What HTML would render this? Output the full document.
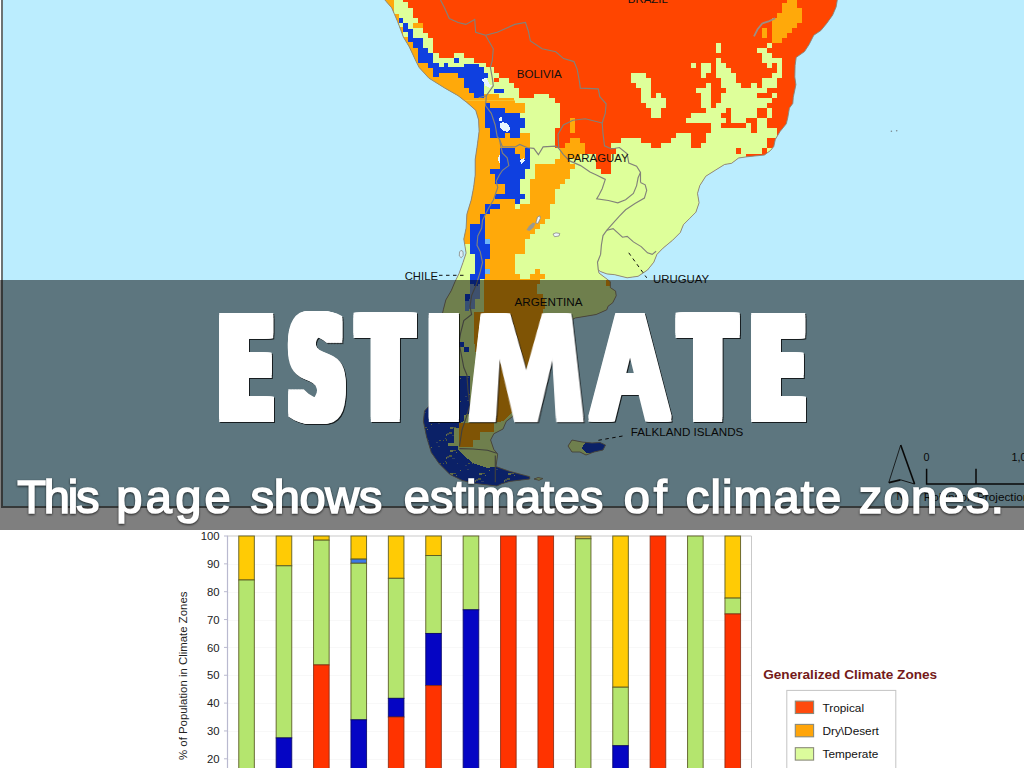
<!DOCTYPE html>
<html lang="en"><head><meta charset="utf-8"><title>Estimate</title>
<style>
html,body{margin:0;padding:0;background:#fff}
body{width:1024px;height:768px;position:relative;overflow:hidden;font-family:"Liberation Sans",sans-serif}
#map{position:absolute;left:0;top:0}
#map text{font-family:"Liberation Sans",sans-serif;fill:#111}
#chart{position:absolute;left:0;top:530px}
#chart text{font-family:"Liberation Sans",sans-serif}
.tk{font-size:11.3px;fill:#222}
.yl{font-size:11.4px;fill:#222}
.lt{font-size:13.3px;font-weight:bold;fill:#741a1a}
.ll{font-size:11.8px;fill:#111}
#band{position:absolute;left:0;top:280px;width:1024px;height:249.6px;background:rgba(0,0,0,.5)}
#hl,#sub{position:absolute;left:0;top:0;width:1024px;margin:0;padding:0;font-size:0;line-height:0;white-space:nowrap;font-weight:normal}
#hl span,#sub span{display:inline-block;position:relative;width:0;vertical-align:top;line-height:1;color:#fff;white-space:pre}
#hl{filter:drop-shadow(1px 1.6px .7px rgba(0,0,0,.75))}
#hl span{font:bold 142.47px "DejaVu Sans","Liberation Sans",sans-serif;line-height:1;transform-origin:0 0}
#hl span.m{font-family:"Liberation Sans",sans-serif}
#sub{filter:drop-shadow(.6px 1.8px .8px rgba(0,0,0,.7))}
#sub span{font:47px "Liberation Sans",sans-serif;line-height:1;-webkit-text-stroke:1.7px #fff}

</style></head><body>
<svg id="map" width="1024" height="508" viewBox="0 0 1024 508" shape-rendering="crispEdges">
<defs><clipPath id="land"><path d="M384.9 -3 L384.9 0 L391.7 7.8 L394.6 14.6 L397.6 21.5 L400.5 29.3 L403.4 37.1 L409.3 46.9 L416.1 61.5 L419.1 67.4 L428.8 78.1 L444.5 87.9 L458.1 95.7 L466.9 102.5 L475.7 110.3 L478.6 120 L479.1 131.3 L477.5 143.8 L475.2 159.4 L475.2 175 L473.6 187.5 L471.2 200 L466.9 214.1 L466.1 228.1 L463.8 239.1 L466.1 253.1 L463 262.5 L459.1 273.4 L455.2 281.3 L451.3 290.6 L445.8 300 L443.4 309.4 L441 320 L439 332 L436 346 L433 360 L431 375 L430 392 L429 406 L424.5 411 L423.4 421.3 L426.6 436.9 L431.3 452.5 L439 463.4 L450 474.4 L462.5 480.6 L478 483.8 L496.9 486 L501.6 483.8 L509.4 481.4 L529.7 479 L529.7 476.7 L509.4 471.3 L496 466.6 L497.7 454 L493.8 449.4 L490.6 440 L493.8 433.8 L503 429 L506.3 421.3 L512.5 416.6 L520 402 L533 388 L546 377 L544 366 L553 352 L557 337 L564 324 L575.2 318 L596.2 314.5 L606.8 309.8 L608 306.3 L612.7 302.8 L616.2 295.8 L615.6 291.1 L610.3 287.6 L610.3 281.7 L608.4 280.2 L605.3 277.8 L599 273.1 L598.3 270 L600.6 271.6 L606.9 273.9 L614.7 274.7 L627.2 277.8 L638.1 276.3 L647.5 270 L653.8 262.2 L656.9 254.4 L663.1 248.1 L672.5 240.3 L680.3 232.5 L683.4 224.7 L689.7 218.4 L695.9 212.2 L699.1 202.8 L697.5 193.4 L699.8 185.6 L705.8 176.2 L715.2 170.3 L724.5 164.5 L731.6 163.3 L738.6 158 L746.8 156.8 L764.4 155 L770.5 150.5 L773.8 146.4 L775.3 139.4 L780 131.6 L786.3 123.8 L787.8 117.5 L789.4 108.1 L792.8 103.4 L793.3 97.2 L795.9 84.7 L794.8 76.9 L795.1 65.6 L796.2 57.4 L804.5 51.6 L809.1 44.5 L813.8 35.2 L820.9 30.5 L826.7 23.4 L832.6 15.2 L836.1 7 L837.3 0 L837.5 -3Z M568 446 L572 440 L582 442 L592 443 L600 442.5 L605.5 445 L603 450 L594 452 L586 455 L580 452 L572 452Z M534 479 L538 477.6 L543 478.5 L539 480.3Z"/></clipPath><clipPath id="t1"><rect x="370" y="-5" width="220" height="105.5"/></clipPath></defs>
<rect x="0" y="0" width="1024" height="508" fill="#bbedfe"/>
<g clip-path="url(#land)">
<rect x="370" y="-5" width="480" height="520" fill="#ff4500"/>
<path fill="#deff9a" d="M630.7 73H645.8V78H630.7ZM630.7 78H650.8V83.1H630.7ZM635.7 83.1H650.8V88.1H635.7ZM640.8 88.1H650.8V93.1H640.8ZM640.8 93.1H650.8V98.1H640.8ZM655.9 93.1H660.9V98.1H655.9ZM640.8 98.1H665.9V103.2H640.8ZM645.8 103.2H665.9V108.2H645.8ZM650.8 108.2H660.9V113.2H650.8ZM650.8 113.2H660.9V118.3H650.8ZM620.6 138.4H640.8V143.4H620.6ZM670.9 138.4H681V143.4H670.9ZM610.6 143.4H650.8V148.4H610.6ZM660.9 143.4H681V148.4H660.9ZM615.6 148.4H681V153.5H615.6ZM580.4 153.5H595.5V158.5H580.4ZM610.6 153.5H681V158.5H610.6ZM570.3 158.5H595.5V163.5H570.3ZM610.6 158.5H681V163.5H610.6ZM570.3 163.5H595.5V168.6H570.3ZM610.6 163.5H681V168.6H610.6ZM570.3 168.6H600.5V173.6H570.3ZM610.6 168.6H681V173.6H610.6ZM565.3 173.6H681V178.6H565.3ZM716.2 42.8H721.2V47.8H716.2ZM766.5 42.8H771.5V47.8H766.5ZM716.2 47.8H721.2V52.9H716.2ZM756.5 47.8H766.5V52.9H756.5ZM761.5 52.9H771.5V57.9H761.5ZM716.2 57.9H721.2V62.9H716.2ZM761.5 57.9H781.6V62.9H761.5ZM691.1 62.9H696.1V68H691.1ZM701.1 62.9H711.2V68H701.1ZM716.2 62.9H726.3V68H716.2ZM766.5 62.9H771.5V68H766.5ZM776.6 62.9H781.6V68H776.6ZM701.1 68H711.2V73H701.1ZM716.2 68H731.3V73H716.2ZM776.6 68H781.6V73H776.6ZM701.1 73H706.1V78H701.1ZM716.2 73H736.3V78H716.2ZM771.5 73H781.6V78H771.5ZM721.2 78H736.3V83.1H721.2ZM761.5 78H776.6V83.1H761.5ZM706.1 83.1H711.2V88.1H706.1ZM721.2 83.1H741.4V88.1H721.2ZM751.4 83.1H756.5V88.1H751.4ZM761.5 83.1H776.6V88.1H761.5ZM696.1 88.1H711.2V93.1H696.1ZM726.3 88.1H766.5V93.1H726.3ZM701.1 93.1H711.2V98.1H701.1ZM721.2 93.1H756.5V98.1H721.2ZM771.5 93.1H776.6V98.1H771.5ZM701.1 98.1H711.2V103.2H701.1ZM721.2 98.1H771.5V103.2H721.2ZM701.1 103.2H711.2V108.2H701.1ZM716.2 103.2H766.5V108.2H716.2ZM706.1 108.2H726.3V113.2H706.1ZM731.3 108.2H756.5V113.2H731.3ZM766.5 108.2H771.5V113.2H766.5ZM691.1 113.2H721.2V118.3H691.1ZM731.3 113.2H756.5V118.3H731.3ZM766.5 113.2H771.5V118.3H766.5ZM686 118.3H726.3V123.3H686ZM731.3 118.3H746.4V123.3H731.3ZM756.5 118.3H766.5V123.3H756.5ZM711.2 123.3H721.2V128.3H711.2ZM746.4 123.3H751.4V128.3H746.4ZM756.5 123.3H766.5V128.3H756.5ZM711.2 128.3H751.4V133.3H711.2ZM756.5 128.3H776.6V133.3H756.5ZM676 133.3H691.1V138.4H676ZM706.1 133.3H776.6V138.4H706.1ZM676 138.4H691.1V143.4H676ZM706.1 138.4H766.5V143.4H706.1ZM676 143.4H691.1V148.4H676ZM701.1 143.4H766.5V148.4H701.1ZM676 148.4H796.7V153.5H676ZM515 98.1H555.2V103.2H515ZM525.1 103.2H560.3V108.2H525.1ZM525.1 108.2H560.3V113.2H525.1ZM520 113.2H560.3V118.3H520ZM525.1 118.3H560.3V123.3H525.1ZM525.1 123.3H560.3V128.3H525.1ZM520 128.3H555.2V133.3H520ZM530.1 133.3H555.2V138.4H530.1ZM530.1 138.4H555.2V143.4H530.1ZM530.1 143.4H555.2V148.4H530.1ZM530.1 148.4H560.3V153.5H530.1ZM530.1 153.5H560.3V158.5H530.1ZM530.1 158.5H555.2V163.5H530.1ZM570.3 158.5H595.5V163.5H570.3ZM530.1 163.5H535.1V168.6H530.1ZM575.4 163.5H595.5V168.6H575.4ZM525.1 168.6H535.1V173.6H525.1ZM570.3 168.6H600.5V173.6H570.3ZM525.1 173.6H535.1V178.6H525.1ZM570.3 173.6H681V178.6H570.3ZM520 178.6H530.1V183.7H520ZM565.3 178.6H681V183.7H565.3ZM520 183.7H530.1V188.7H520ZM560.3 183.7H681V188.7H560.3ZM520 188.7H530.1V193.7H520ZM555.2 188.7H681V193.7H555.2ZM525.1 193.7H530.1V198.7H525.1ZM555.2 193.7H681V198.7H555.2ZM520 198.7H530.1V203.8H520ZM550.2 198.7H681V203.8H550.2ZM515 203.8H520V208.8H515ZM550.2 203.8H681V208.8H550.2ZM550.2 208.8H681V213.8H550.2ZM550.2 213.8H681V218.9H550.2ZM610.6 153.5H786.6V158.5H610.6ZM610.6 158.5H786.6V163.5H610.6ZM610.6 163.5H786.6V168.6H610.6ZM610.6 168.6H786.6V173.6H610.6ZM610.6 173.6H786.6V178.6H610.6ZM610.6 178.6H786.6V183.7H610.6ZM610.6 183.7H786.6V188.7H610.6ZM610.6 188.7H786.6V193.7H610.6ZM610.6 193.7H786.6V198.7H610.6ZM610.6 198.7H786.6V203.8H610.6ZM610.6 203.8H786.6V208.8H610.6ZM610.6 208.8H786.6V213.8H610.6ZM610.6 213.8H786.6V218.9H610.6ZM399.3 218.9H736.3V223.9H399.3ZM399.3 223.9H736.3V228.9H399.3ZM399.3 228.9H736.3V234H399.3ZM399.3 234H736.3V239H399.3ZM399.3 239H736.3V244H399.3ZM399.3 244H736.3V249H399.3ZM399.3 249H736.3V254.1H399.3ZM399.3 254.1H736.3V259.1H399.3ZM399.3 259.1H736.3V264.1H399.3ZM399.3 264.1H736.3V269.2H399.3ZM399.3 269.2H736.3V274.2H399.3ZM399.3 274.2H736.3V279.2H399.3ZM399.3 279.2H736.3V284.3H399.3ZM399.3 284.3H736.3V289.3H399.3ZM399.3 289.3H736.3V294.3H399.3ZM399.3 294.3H736.3V299.3H399.3ZM399.3 299.3H736.3V304.4H399.3ZM399.3 304.4H736.3V309.4H399.3ZM399.3 309.4H736.3V314.4H399.3ZM399.3 314.4H736.3V319.5H399.3ZM399.3 319.5H736.3V324.5H399.3ZM399.3 324.5H736.3V329.5H399.3ZM399.3 329.5H736.3V334.6H399.3ZM399.3 334.6H736.3V339.6H399.3ZM399.3 339.6H736.3V344.6H399.3ZM399.3 344.6H736.3V349.6H399.3ZM399.3 349.6H736.3V354.7H399.3ZM399.3 354.7H736.3V359.7H399.3ZM399.3 359.7H736.3V364.7H399.3ZM399.3 364.7H736.3V369.8H399.3ZM399.3 369.8H736.3V374.8H399.3ZM399.3 374.8H736.3V379.8H399.3ZM399.3 379.8H736.3V384.9H399.3ZM399.3 384.9H736.3V389.9H399.3ZM399.3 389.9H736.3V394.9H399.3ZM399.3 394.9H736.3V399.9H399.3ZM399.3 399.9H736.3V405H399.3ZM399.3 405H736.3V410H399.3ZM399.3 410H736.3V415H399.3ZM399.3 415H736.3V420.1H399.3ZM399.3 420.1H736.3V425.1H399.3ZM399.3 425.1H736.3V430.1H399.3ZM399.3 430.1H736.3V435.2H399.3ZM399.3 435.2H736.3V440.2H399.3ZM399.3 440.2H736.3V445.2H399.3ZM399.3 445.2H736.3V450.2H399.3ZM399.3 450.2H736.3V455.3H399.3ZM399.3 455.3H736.3V460.3H399.3ZM399.3 460.3H736.3V465.3H399.3ZM399.3 465.3H736.3V470.4H399.3ZM399.3 470.4H736.3V475.4H399.3ZM399.3 475.4H736.3V480.4H399.3ZM399.3 480.4H736.3V485.5H399.3ZM399.3 485.5H736.3V490.5H399.3ZM399.3 490.5H736.3V495.5H399.3ZM399.3 495.5H736.3V500.5H399.3ZM399.3 500.5H736.3V505.6H399.3ZM399.3 505.6H736.3V510.6H399.3ZM399.3 510.6H736.3V515.6H399.3ZM399.3 515.6H736.3V520.7H399.3ZM399.3 520.7H736.3V525.7H399.3ZM399.3 525.7H736.3V530.7H399.3ZM399.3 530.7H736.3V535.8H399.3ZM399.3 535.8H736.3V540.8H399.3ZM399.3 540.8H736.3V545.8H399.3ZM399.3 545.8H736.3V550.8H399.3ZM520 198.7H530.1V203.8H520ZM515 203.8H520V208.8H515Z"/>
<path fill="#ff4500" d="M736.3 148.4H741.4V153.5H736.3ZM761.5 148.4H766.5V153.5H761.5ZM746.4 153.5H766.5V158.5H746.4Z"/>
<path fill="#ffa90a" d="M570.3 118.3H575.4V123.3H570.3ZM570.3 123.3H575.4V128.3H570.3ZM570.3 128.3H575.4V133.3H570.3ZM570.3 138.4H580.4V143.4H570.3ZM570.3 143.4H585.4V148.4H570.3ZM565.3 148.4H585.4V153.5H565.3ZM560.3 153.5H580.4V158.5H560.3ZM560.3 158.5H570.3V163.5H560.3ZM560.3 163.5H570.3V168.6H560.3ZM560.3 168.6H570.3V173.6H560.3ZM560.3 173.6H565.3V178.6H560.3ZM761.5 27.7H766.5V32.8H761.5ZM771.5 27.7H791.7V32.8H771.5ZM761.5 32.8H766.5V37.8H761.5ZM771.5 32.8H786.6V37.8H771.5ZM771.5 37.8H781.6V42.8H771.5ZM439.6 98.1H515V103.2H439.6ZM439.6 103.2H484.8V108.2H439.6ZM489.9 103.2H525.1V108.2H489.9ZM439.6 108.2H484.8V113.2H439.6ZM504.9 108.2H525.1V113.2H504.9ZM439.6 113.2H484.8V118.3H439.6ZM439.6 118.3H484.8V123.3H439.6ZM570.3 118.3H575.4V123.3H570.3ZM439.6 123.3H484.8V128.3H439.6ZM570.3 123.3H575.4V128.3H570.3ZM439.6 128.3H489.9V133.3H439.6ZM570.3 128.3H575.4V133.3H570.3ZM439.6 133.3H489.9V138.4H439.6ZM504.9 133.3H510V138.4H504.9ZM520 133.3H530.1V138.4H520ZM439.6 138.4H530.1V143.4H439.6ZM570.3 138.4H580.4V143.4H570.3ZM439.6 143.4H530.1V148.4H439.6ZM565.3 143.4H585.4V148.4H565.3ZM439.6 148.4H499.9V153.5H439.6ZM515 148.4H525.1V153.5H515ZM560.3 148.4H585.4V153.5H560.3ZM439.6 153.5H499.9V158.5H439.6ZM520 153.5H525.1V158.5H520ZM560.3 153.5H580.4V158.5H560.3ZM439.6 158.5H499.9V163.5H439.6ZM555.2 158.5H570.3V163.5H555.2ZM439.6 163.5H499.9V168.6H439.6ZM535.1 163.5H575.4V168.6H535.1ZM439.6 168.6H489.9V173.6H439.6ZM535.1 168.6H570.3V173.6H535.1ZM439.6 173.6H494.9V178.6H439.6ZM535.1 173.6H570.3V178.6H535.1ZM439.6 178.6H494.9V183.7H439.6ZM530.1 178.6H565.3V183.7H530.1ZM439.6 183.7H504.9V188.7H439.6ZM530.1 183.7H560.3V188.7H530.1ZM439.6 188.7H504.9V193.7H439.6ZM530.1 188.7H555.2V193.7H530.1ZM439.6 193.7H494.9V198.7H439.6ZM530.1 193.7H555.2V198.7H530.1ZM439.6 198.7H515V203.8H439.6ZM530.1 198.7H550.2V203.8H530.1ZM439.6 203.8H484.8V208.8H439.6ZM499.9 203.8H515V208.8H499.9ZM520 203.8H550.2V208.8H520ZM439.6 208.8H484.8V213.8H439.6ZM489.9 208.8H550.2V213.8H489.9ZM439.6 213.8H479.8V218.9H439.6ZM484.8 213.8H550.2V218.9H484.8ZM439.6 198.7H515V203.8H439.6ZM530.1 198.7H555.2V203.8H530.1ZM439.6 203.8H484.8V208.8H439.6ZM499.9 203.8H515V208.8H499.9ZM520 203.8H550.2V208.8H520ZM439.6 208.8H484.8V213.8H439.6ZM489.9 208.8H550.2V213.8H489.9ZM439.6 213.8H479.8V218.9H439.6ZM484.8 213.8H550.2V218.9H484.8ZM439.6 218.9H479.8V223.9H439.6ZM484.8 218.9H545.2V223.9H484.8ZM439.6 223.9H469.7V228.9H439.6ZM484.8 223.9H540.2V228.9H484.8ZM439.6 228.9H469.7V234H439.6ZM484.8 228.9H535.1V234H484.8ZM439.6 234H469.7V239H439.6ZM484.8 234H530.1V239H484.8ZM439.6 239H469.7V244H439.6ZM489.9 239H525.1V244H489.9ZM489.9 244H525.1V249H489.9ZM489.9 249H525.1V254.1H489.9ZM489.9 254.1H515V259.1H489.9ZM484.8 259.1H515V264.1H484.8ZM484.8 264.1H515V269.2H484.8ZM489.9 269.2H515V274.2H489.9ZM535.1 269.2H540.2V274.2H535.1ZM484.8 274.2H520V279.2H484.8ZM530.1 274.2H545.2V279.2H530.1ZM484.8 279.2H525.1V284.3H484.8ZM530.1 279.2H540.2V284.3H530.1ZM484.8 284.3H535.1V289.3H484.8ZM484.8 289.3H535.1V294.3H484.8ZM484.8 294.3H535.1V299.3H484.8ZM489.9 299.3H545.2V304.4H489.9ZM489.9 304.4H545.2V309.4H489.9ZM786.6 -2.5H796.7V2.6H786.6ZM781.6 2.6H796.7V7.6H781.6ZM781.6 7.6H801.7V12.6H781.6ZM776.6 12.6H801.7V17.7H776.6ZM771.5 17.7H801.7V22.7H771.5ZM771.5 22.7H796.7V27.7H771.5Z"/>
<path fill="#0f40e0" d="M484.8 103.2H489.9V108.2H484.8ZM484.8 108.2H504.9V113.2H484.8ZM484.8 113.2H520V118.3H484.8ZM484.8 118.3H525.1V123.3H484.8ZM484.8 123.3H525.1V128.3H484.8ZM489.9 128.3H520V133.3H489.9ZM489.9 133.3H504.9V138.4H489.9ZM510 133.3H520V138.4H510ZM499.9 148.4H515V153.5H499.9ZM525.1 148.4H530.1V153.5H525.1ZM499.9 153.5H520V158.5H499.9ZM525.1 153.5H530.1V158.5H525.1ZM499.9 158.5H530.1V163.5H499.9ZM499.9 163.5H530.1V168.6H499.9ZM489.9 168.6H525.1V173.6H489.9ZM494.9 173.6H525.1V178.6H494.9ZM494.9 178.6H520V183.7H494.9ZM504.9 183.7H520V188.7H504.9ZM504.9 188.7H520V193.7H504.9ZM494.9 193.7H525.1V198.7H494.9ZM515 198.7H520V203.8H515ZM484.8 203.8H499.9V208.8H484.8ZM484.8 208.8H489.9V213.8H484.8ZM479.8 213.8H484.8V218.9H479.8ZM515 198.7H520V203.8H515ZM484.8 203.8H499.9V208.8H484.8ZM484.8 208.8H489.9V213.8H484.8ZM479.8 213.8H484.8V218.9H479.8ZM479.8 218.9H484.8V223.9H479.8ZM469.7 223.9H484.8V228.9H469.7ZM469.7 228.9H484.8V234H469.7ZM469.7 234H484.8V239H469.7ZM469.7 239H484.8V244H469.7ZM469.7 244H489.9V249H469.7ZM469.7 249H489.9V254.1H469.7ZM474.8 254.1H489.9V259.1H474.8ZM474.8 259.1H484.8V264.1H474.8ZM474.8 264.1H484.8V269.2H474.8ZM474.8 269.2H484.8V274.2H474.8ZM469.7 274.2H484.8V279.2H469.7ZM469.7 279.2H479.8V284.3H469.7ZM464.7 294.3H469.7V299.3H464.7Z"/>
<path fill="#6fb4f5" d="M484.8 239H489.9V244H484.8ZM484.8 269.2H489.9V274.2H484.8Z"/>
<path fill="#7ea2dc" d="M469.7 284.3H479.8V289.3H469.7ZM469.7 289.3H479.8V294.3H469.7ZM469.7 294.3H479.8V299.3H469.7ZM464.7 299.3H474.8V304.4H464.7ZM464.7 304.4H474.8V309.4H464.7Z"/>
<g clip-path="url(#t1)">
<polygon fill="#deff9a" points="380,0 403,0 403,2.3 407.7,2.3 407.7,7.6 413,7.6 413,17.6 417.7,17.6 417.7,22.9 423,22.9 423,32.8 427.7,32.8 427.7,38.1 432.9,38.1 432.9,52.7 438.6,52.7 438.6,57.6 454.2,57.6 454.2,52.7 464,52.7 464,57.6 473.8,57.6 473.8,62.5 486.4,62.5 486.4,67.4 494.3,67.4 494.3,73.2 499.1,73.2 499.1,78.1 508.9,78.1 508.9,83 513.8,83 513.8,87.9 518.7,87.9 518.7,97.7 534.3,97.7 534.3,93.8 548.9,93.8 548.9,97.7 553.8,97.7 553.8,102.5 559.7,102.5 559.7,125 554.8,128.9 554.8,150 380,150"/>
<polygon fill="#ff4500" points="494.3,78.1 498.8,78.1 498.8,82.4 494.3,82.4"/>
<polygon fill="#ffa90a" points="380,0 393.7,0 393.7,13.7 398.6,13.7 398.6,27.3 403.4,27.3 403.4,37.1 408.3,37.1 408.3,42 413.2,42 413.2,47.9 418.1,47.9 418.1,62.5 432.7,62.5 432.7,72.7 458.1,72.7 458.1,78.1 464,78.1 464,87.9 468.9,87.9 468.9,92.8 473.8,92.8 473.8,97.7 483.5,97.7 483.5,93.8 499.1,93.8 499.1,97.7 513.8,97.7 513.8,102.5 524.5,102.5 524.5,117.2 528.4,117.2 528.4,134.8 524.5,134.8 524.5,150 380,150"/>
<polygon fill="#ffa90a" points="413.2,23.4 423,23.4 423,28.3 413.2,28.3"/>
<polygon fill="#ffa90a" points="569.5,119.1 575.3,119.1 575.3,136.7 580,136.7 580,150 569.5,150"/>
<polygon fill="#deff9a" points="393.7,0 403.4,0 403.4,11.7 398.6,11.7 398.6,13.7 393.7,13.7"/>
<polygon fill="#deff9a" points="398.6,22.5 403.4,22.5 403.4,27.3 398.6,27.3"/>
<polygon fill="#deff9a" points="403.4,32.2 408.3,32.2 408.3,37.1 403.4,37.1"/>
<polygon fill="#0f40e0" points="398.6,17.6 403.4,17.6 403.4,22.5 398.6,22.5"/>
<polygon fill="#0f40e0" points="403.4,23.4 408.3,23.4 408.3,29.3 413.2,29.3 413.2,38.1 423,38.1 423,47.9 427.9,47.9 427.9,52.7 432.7,52.7 432.7,62.5 438.6,62.5 438.6,67.4 448.4,67.4 448.4,62.5 443.5,62.5 443.5,67.4 464,67.4 464,63.5 478.6,63.5 478.6,67.4 483.5,67.4 483.5,73.2 488.4,73.2 488.4,78.1 483.5,78.1 483.5,97.7 473.8,97.7 473.8,92.8 468.9,92.8 468.9,87.9 464,87.9 464,78.1 458.1,78.1 458.1,72.7 438.6,72.7 438.6,77.1 432.7,77.1 432.7,68.4 427.9,68.4 427.9,62.5 418.1,62.5 418.1,47.9 413.2,47.9 413.2,42 408.3,42 408.3,32.2 403.4,32.2"/>
<polygon fill="#0f40e0" points="454.2,57.6 459.1,57.6 459.1,62.5 454.2,62.5"/>
<polygon fill="#0f40e0" points="494.3,88.9 504,88.9 504,93.4 494.3,93.4"/>
<polygon fill="#0f40e0" points="483.5,103.5 489.4,103.5 489.4,108.4 504,108.4 504,113.3 518.7,113.3 518.7,118.2 524.5,118.2 524.5,127.9 519.6,127.9 519.6,137.7 489.4,137.7 489.4,127.9 483.5,127.9"/>
<polygon fill="#e8f6ff" points="481.6,79.1 486.4,78.1 489.4,84 492.3,85.9 489.4,87.9 485.5,85.9"/>
<polygon fill="#e8f6ff" points="499.1,125 503,123 507,124 509.9,128.9 506,131.8 501.1,129.9"/>
<polygon fill="#e8f6ff" points="498.2,118.2 502.1,117.2 502.1,121.1 499.1,121.5"/>
</g>
<polygon fill="#ffa90a" points="484,279 532,279 532,284 537,284 537,294 543,294 543,312 540,325 535,345 528,365 520,385 512,412 503,421 494,423 494,432 480,432 480,440 473,440 473,447 459,447 459,423 480,423 490,400 492,372 476,372 476,356 474,340 474,312 484,312"/>
<defs><pattern id="spk" width="29" height="23" patternUnits="userSpaceOnUse"><rect width="29" height="23" fill="#1643cf"/><rect x="8.4" y="3.2" width="1" height="1" fill="#9fb07f"/><rect x="9.5" y="1.2" width="1.5" height="1" fill="#9fb07f"/><rect x="11.3" y="1.5" width="1" height="2" fill="#9fb07f"/><rect x="21.5" y="2.6" width="1.5" height="1" fill="#5f7fc8"/><rect x="1.3" y="4.6" width="1.5" height="1.5" fill="#5f7fc8"/><rect x="3.8" y="2.5" width="2" height="1" fill="#9fb07f"/><rect x="15.1" y="13.4" width="2" height="1" fill="#9fb07f"/><rect x="14.7" y="13.0" width="3" height="2" fill="#c6dd95"/><rect x="12.1" y="19.4" width="2" height="1.5" fill="#7f93b0"/><rect x="20.7" y="14.7" width="1.5" height="1" fill="#c6dd95"/><rect x="13.7" y="18.4" width="3" height="1.5" fill="#9fb07f"/><rect x="3.1" y="8.8" width="2" height="1" fill="#5f7fc8"/><rect x="11.0" y="20.2" width="1" height="1.5" fill="#c6dd95"/><rect x="18.1" y="12.5" width="3" height="1" fill="#9fb07f"/><rect x="24.6" y="10.0" width="1" height="1" fill="#c6dd95"/><rect x="16.8" y="20.9" width="3" height="1.5" fill="#5f7fc8"/></pattern></defs>
<polygon fill="url(#spk)" points="418,376 470,376 470,413 464,415 464,421 459.4,423 459.4,428 454,428 454,443 448,443 448,446 458,446 458,450 468,459 473,463 487,468 496,466.6 509.4,471.3 529.7,476.7 535,480 500,492 460,488 428,465 415,420"/>
<rect x="459" y="342" width="5" height="5" fill="#0f40e0"/>
<rect x="464" y="347" width="4.5" height="5" fill="#0f40e0"/>
<rect x="474" y="281.5" width="4" height="4.5" fill="#0f40e0"/>
<rect x="464.5" y="296" width="4" height="4.5" fill="#0f40e0"/>
<rect x="464.5" y="300.5" width="4" height="10" fill="#6fa0e8"/>
<rect x="605.5" y="280" width="5" height="6" fill="#ffa90a"/>
<polygon fill="#e6f4ff" points="499.5,124 503,122 507,123.5 510.5,128 508,132 503,131 500,128"/>
<polygon fill="#e6f4ff" points="498.5,118 501.5,117 502,120.5 499,121"/>
<polygon fill="#e6f4ff" points="498,158 499.5,155 500.5,160 499,164"/>
<polygon fill="#e6f4ff" points="520,160 524,158 525,161 521,164"/>
<polygon fill="#1643cf" points="586,441 600,442 606,445 603,451 594,452.5 586,453 582,448"/>
</g>
<g fill="none" stroke="#82827a" stroke-width="1.15" shape-rendering="auto">
<path d="M440.5 0 L444.5 7.8 L449.3 18.6 L458.1 22.5 L465.9 24.4 L474.7 19.5 L475.7 32.2 L485.5 35.2"/>
<path d="M485.5 35.2 L489.4 42 L493.3 48.8 L492.3 60.5 L490.4 67.4 L492.3 78.1 L493.3 85.9 L486.4 95.7"/>
<path d="M478.6 97.7 L486.4 95.7 L485.5 105.5 L491.3 113.3 L495.2 125 L497.2 136.7 L499.4 139"/>
<path d="M485.5 35.2 L497.2 32.2 L514.8 24.4 L525.5 22.5 L528.4 31.2 L530.4 41 L542.1 48.8 L555.8 51.8 L563.6 58.6 L574 61.6 L577.2 69.4 L579.5 81.9 L580.3 88.1 L598.3 88.9 L599.8 96.7 L606.1 103.8 L605.3 113.1 L602.2 123"/>
<path d="M558.8 148.4 L558 134.4 L563.4 125 L572.8 120.3 L585.3 118.8 L602.2 123"/>
<path d="M602.2 123 L603 133.4 L604.5 145.9 L611.6 149 L619.4 147.5 L627.2 153.8 L628.8 163.1 L636.6 166.2 L640.5 172.5 L640.5 182.5"/>
<path d="M499.4 139 L502.5 146.9 L515 146.9 L519.7 144.5 L527.5 147.7 L533.8 148.4 L538.4 154.7 L543.1 146.9 L555.6 146.1 L558.8 148.4 L563.4 154.7 L569.7 160.9 L580.6 165.6 L590 171.9 L595.9 174.7 L605.3 179.4 L602.2 188.8 L599 195 L596.7 198.9 L608.4 200.5 L617.8 202.8 L625.6 199.7 L633.4 193.4 L636.6 185.6 L638.1 177.8 L640.5 172.5"/>
<path d="M640.5 182.5 L645.2 184.8 L646.7 190.3 L644.4 198.1 L635 203.6 L625.6 209.8 L619.4 216.1 L613.1 223.1 L606.9 230.2"/>
<path d="M606.9 230.2 L613.1 228.6 L622.5 237.2 L627.2 236.4 L633.4 241.9 L641.2 246.6 L647.5 252.8 L652.2 254.4 L656.1 251.2"/>
<path d="M606.9 230.2 L603 235.6 L601.4 245 L600.6 254.4 L597.5 262.2 L598.3 270"/>
<path d="M499.4 139 L500.9 146.9 L502.5 153.1 L507.2 157.8 L508.8 165.6 L502.5 170.3 L499.4 175 L496.2 181.2 L497.8 187.5 L495.5 193.8 L493.4 200 L488.8 207.8 L485.6 214.1 L482.5 220.3 L481.7 228.1 L477.8 235.9 L477 245.3 L480.2 251.6 L482.5 262.5 L480.2 271.9 L476.2 284.7 L471.6 295.6 L470 306.6 L471.6 314.4 L463.8 320.6 L460.6 333.1 L459 342.5 L461.4 355 L463.8 367.5 L466.9 375 L468 390 L470 405 L466 418 L462 430 L459.5 446"/>
<path d="M459.4 448.6 L473 449 L487.5 450.2 L496.9 453.3"/>
<path d="M495.3 455.6 L495.3 482.2"/>
<path d="M384.9 -3 L384.9 0 L391.7 7.8 L394.6 14.6 L397.6 21.5 L400.5 29.3 L403.4 37.1 L409.3 46.9 L416.1 61.5 L419.1 67.4 L428.8 78.1 L444.5 87.9 L458.1 95.7 L466.9 102.5 L475.7 110.3 L478.6 120 L479.1 131.3 L477.5 143.8 L475.2 159.4 L475.2 175 L473.6 187.5 L471.2 200 L466.9 214.1 L466.1 228.1 L463.8 239.1 L466.1 253.1 L463 262.5 L459.1 273.4 L455.2 281.3 L451.3 290.6 L445.8 300 L443.4 309.4 L441 320 L439 332 L436 346 L433 360 L431 375 L430 392 L429 406 L424.5 411 L423.4 421.3 L426.6 436.9 L431.3 452.5 L439 463.4 L450 474.4 L462.5 480.6 L478 483.8 L496.9 486 L501.6 483.8 L509.4 481.4 L529.7 479 L529.7 476.7 L509.4 471.3 L496 466.6 L497.7 454 L493.8 449.4 L490.6 440 L493.8 433.8 L503 429 L506.3 421.3 L512.5 416.6 L520 402 L533 388 L546 377 L544 366 L553 352 L557 337 L564 324 L575.2 318 L596.2 314.5 L606.8 309.8 L608 306.3 L612.7 302.8 L616.2 295.8 L615.6 291.1 L610.3 287.6 L610.3 281.7 L608.4 280.2 L605.3 277.8 L599 273.1 L598.3 270 L600.6 271.6 L606.9 273.9 L614.7 274.7 L627.2 277.8 L638.1 276.3 L647.5 270 L653.8 262.2 L656.9 254.4 L663.1 248.1 L672.5 240.3 L680.3 232.5 L683.4 224.7 L689.7 218.4 L695.9 212.2 L699.1 202.8 L697.5 193.4 L699.8 185.6 L705.8 176.2 L715.2 170.3 L724.5 164.5 L731.6 163.3 L738.6 158 L746.8 156.8 L764.4 155 L770.5 150.5 L773.8 146.4 L775.3 139.4 L780 131.6 L786.3 123.8 L787.8 117.5 L789.4 108.1 L792.8 103.4 L793.3 97.2 L795.9 84.7 L794.8 76.9 L795.1 65.6 L796.2 57.4 L804.5 51.6 L809.1 44.5 L813.8 35.2 L820.9 30.5 L826.7 23.4 L832.6 15.2 L836.1 7 L837.3 0 L837.5 -3Z M568 446 L572 440 L582 442 L592 443 L600 442.5 L605.5 445 L603 450 L594 452 L586 455 L580 452 L572 452Z M534 479 L538 477.6 L543 478.5 L539 480.3Z" stroke="#86867c" stroke-width=".9"/>
<path d="M754 36.3L757.6 29.3L762.3 23.4L769.3 21.1L775.2 18.2" stroke="#9a8f86" stroke-width="1.8"/>
<path d="M535.8 223L537.5 217L540 215.8L540.3 218.5L538 223.4Z" fill="#eef6fb" stroke="#8a8a84" stroke-width=".8"/>
<path d="M553 234L556 232.8L559.8 233.5L559 236L554.5 236.7Z" fill="#eef6fb" stroke="#8a8a84" stroke-width=".8"/>
<path d="M526.5 230L529 226L533 222.5L535.5 223.5L533.5 227.5L529.5 231Z" fill="#9a9a92" stroke="none"/>
<path d="M459.5 252L461 250.3L463 251.5L463.2 255.5L461.2 257.8L459.3 256Z" fill="#d9eef6" stroke="#8a8a84" stroke-width=".8"/>
<circle cx="891.4" cy="131.3" r=".8" fill="#7d8a90" stroke="none"/><circle cx="896.7" cy="130.7" r=".8" fill="#7d8a90" stroke="none"/>
</g>
<g shape-rendering="auto">
<text x="647.8" y="3" text-anchor="middle" font-size="11.3" textLength="40" lengthAdjust="spacingAndGlyphs">BRAZIL</text>
<text x="516.7" y="78.1" font-size="11.3" textLength="45" lengthAdjust="spacingAndGlyphs">BOLIVIA</text>
<text x="567" y="161.6" font-size="11.3" textLength="61.7" lengthAdjust="spacingAndGlyphs">PARAGUAY</text>
<text x="653" y="282.8" font-size="11.3" textLength="56" lengthAdjust="spacingAndGlyphs">URUGUAY</text>
<text x="404.7" y="280" font-size="11.3" textLength="33.3" lengthAdjust="spacingAndGlyphs">CHILE</text>
<text x="514.5" y="306.2" font-size="11.3" textLength="68" lengthAdjust="spacingAndGlyphs">ARGENTINA</text>
<text x="630.8" y="435.6" font-size="11.3" textLength="112.5" lengthAdjust="spacingAndGlyphs">FALKLAND ISLANDS</text>
<g stroke="#111" stroke-width="1" stroke-dasharray="3.5 3.5" fill="none"><path d="M439 275.3H466"/><path d="M628.75 252.8L646.7 277.8"/><path d="M598.4 440.3L625 435.6"/></g>
<path d="M900.7 445L888.7 482.8" fill="none" stroke="#111" stroke-width=".8"/>
<path d="M900.5 479.8L914.6 484" fill="none" stroke="#111" stroke-width=".9"/>
<path d="M900.7 445L914.6 484" fill="none" stroke="#111" stroke-width="1.6"/>
<path d="M888.9 482.6L900.5 479.8" stroke="#111" stroke-width="1.9"/>
<text x="896.5" y="500" font-size="11">N</text>
<path d="M926.6 468.8V484H1024M976 468.8V484" fill="none" stroke="#111" stroke-width="1.5"/>
<text x="923.6" y="460.5" font-size="10.8">0</text><text x="1011.5" y="460.5" font-size="10.8">1,000</text>
<text x="923.8" y="501" font-size="11.8" fill="#222">Robinson Projection</text>
</g>
<rect x="0" y="0" width="1.2" height="508" fill="#fff"/>
<path d="M2.1 0V506.9H1024" fill="none" stroke="#6d7373" stroke-width="1.9"/>
</svg>
<svg id="chart" width="1024" height="238" viewBox="0 530 1024 238">
<rect x="0" y="530" width="1024" height="238" fill="#fff"/>
<path d="M227.5 536H751.5V770" fill="none" stroke="#c9c9c9" stroke-width="1"/>
<path d="M228 759.5H751" stroke="#f8f8f8" stroke-width="1"/>
<path d="M228 731.5H751" stroke="#f8f8f8" stroke-width="1"/>
<path d="M228 703.5H751" stroke="#f8f8f8" stroke-width="1"/>
<path d="M228 675.5H751" stroke="#f8f8f8" stroke-width="1"/>
<path d="M228 647.5H751" stroke="#f8f8f8" stroke-width="1"/>
<path d="M228 620.5H751" stroke="#f8f8f8" stroke-width="1"/>
<path d="M228 592.5H751" stroke="#f8f8f8" stroke-width="1"/>
<path d="M228 564.5H751" stroke="#f8f8f8" stroke-width="1"/>
<rect x="238.75" y="536" width="15.6" height="44" fill="#ffcb05" stroke="#55551f" stroke-opacity=".85" stroke-width="1"/>
<rect x="238.75" y="580" width="15.6" height="248.42" fill="#b4e56e" stroke="#55551f" stroke-opacity=".85" stroke-width="1"/>
<rect x="276.15" y="536" width="15.6" height="29.8" fill="#ffcb05" stroke="#55551f" stroke-opacity=".85" stroke-width="1"/>
<rect x="276.15" y="565.8" width="15.6" height="172.11" fill="#b4e56e" stroke="#55551f" stroke-opacity=".85" stroke-width="1"/>
<rect x="276.15" y="737.91" width="15.6" height="90.51" fill="#0505c4" stroke="#06066a" stroke-opacity=".85" stroke-width="1"/>
<rect x="313.55" y="536" width="15.6" height="4.18" fill="#ffcb05" stroke="#55551f" stroke-opacity=".85" stroke-width="1"/>
<rect x="313.55" y="540.18" width="15.6" height="124.77" fill="#b4e56e" stroke="#55551f" stroke-opacity=".85" stroke-width="1"/>
<rect x="313.55" y="664.95" width="15.6" height="163.48" fill="#ff3300" stroke="#8a2a10" stroke-opacity=".85" stroke-width="1"/>
<rect x="350.95" y="536" width="15.6" height="23.12" fill="#ffcb05" stroke="#55551f" stroke-opacity=".85" stroke-width="1"/>
<rect x="350.95" y="559.12" width="15.6" height="4.18" fill="#3c78e6" stroke="#55551f" stroke-opacity=".85" stroke-width="1"/>
<rect x="350.95" y="563.29" width="15.6" height="156.52" fill="#b4e56e" stroke="#55551f" stroke-opacity=".85" stroke-width="1"/>
<rect x="350.95" y="719.81" width="15.6" height="108.62" fill="#0505c4" stroke="#06066a" stroke-opacity=".85" stroke-width="1"/>
<rect x="388.35" y="536" width="15.6" height="42.33" fill="#ffcb05" stroke="#55551f" stroke-opacity=".85" stroke-width="1"/>
<rect x="388.35" y="578.33" width="15.6" height="120.03" fill="#b4e56e" stroke="#55551f" stroke-opacity=".85" stroke-width="1"/>
<rect x="388.35" y="698.37" width="15.6" height="18.66" fill="#0505c4" stroke="#06066a" stroke-opacity=".85" stroke-width="1"/>
<rect x="388.35" y="717.02" width="15.6" height="111.4" fill="#ff3300" stroke="#8a2a10" stroke-opacity=".85" stroke-width="1"/>
<rect x="425.75" y="536" width="15.6" height="19.5" fill="#ffcb05" stroke="#55551f" stroke-opacity=".85" stroke-width="1"/>
<rect x="425.75" y="555.5" width="15.6" height="77.98" fill="#b4e56e" stroke="#55551f" stroke-opacity=".85" stroke-width="1"/>
<rect x="425.75" y="633.48" width="15.6" height="52.08" fill="#0505c4" stroke="#06066a" stroke-opacity=".85" stroke-width="1"/>
<rect x="425.75" y="685.55" width="15.6" height="142.87" fill="#ff3300" stroke="#8a2a10" stroke-opacity=".85" stroke-width="1"/>
<rect x="463.15" y="536" width="15.6" height="73.8" fill="#b4e56e" stroke="#55551f" stroke-opacity=".85" stroke-width="1"/>
<rect x="463.15" y="609.8" width="15.6" height="218.62" fill="#0505c4" stroke="#06066a" stroke-opacity=".85" stroke-width="1"/>
<rect x="500.55" y="536" width="15.6" height="292.42" fill="#ff3300" stroke="#8a2a10" stroke-opacity=".85" stroke-width="1"/>
<rect x="537.95" y="536" width="15.6" height="292.42" fill="#ff3300" stroke="#8a2a10" stroke-opacity=".85" stroke-width="1"/>
<rect x="575.35" y="536" width="15.6" height="2.78" fill="#d9b84a" stroke="#55551f" stroke-opacity=".85" stroke-width="1"/>
<rect x="575.35" y="538.78" width="15.6" height="289.64" fill="#b4e56e" stroke="#55551f" stroke-opacity=".85" stroke-width="1"/>
<rect x="612.75" y="536" width="15.6" height="151.23" fill="#ffcb05" stroke="#55551f" stroke-opacity=".85" stroke-width="1"/>
<rect x="612.75" y="687.23" width="15.6" height="58.49" fill="#b4e56e" stroke="#55551f" stroke-opacity=".85" stroke-width="1"/>
<rect x="612.75" y="745.71" width="15.6" height="82.71" fill="#0505c4" stroke="#06066a" stroke-opacity=".85" stroke-width="1"/>
<rect x="650.15" y="536" width="15.6" height="292.42" fill="#ff3300" stroke="#8a2a10" stroke-opacity=".85" stroke-width="1"/>
<rect x="687.55" y="536" width="15.6" height="292.42" fill="#b4e56e" stroke="#55551f" stroke-opacity=".85" stroke-width="1"/>
<rect x="724.95" y="536" width="15.6" height="62.11" fill="#ffcb05" stroke="#55551f" stroke-opacity=".85" stroke-width="1"/>
<rect x="724.95" y="598.11" width="15.6" height="15.87" fill="#b4e56e" stroke="#55551f" stroke-opacity=".85" stroke-width="1"/>
<rect x="724.95" y="613.98" width="15.6" height="214.44" fill="#ff3300" stroke="#8a2a10" stroke-opacity=".85" stroke-width="1"/>
<path d="M227.5 536V770" stroke="#b9b9cf" stroke-width="1.2"/>
<path d="M224 758.8H228" stroke="#b9b9cf" stroke-width="1"/>
<text x="219.6" y="763" text-anchor="end" class="tk">20</text>
<path d="M224 730.95H228" stroke="#b9b9cf" stroke-width="1"/>
<text x="219.6" y="735.15" text-anchor="end" class="tk">30</text>
<path d="M224 703.1H228" stroke="#b9b9cf" stroke-width="1"/>
<text x="219.6" y="707.3" text-anchor="end" class="tk">40</text>
<path d="M224 675.25H228" stroke="#b9b9cf" stroke-width="1"/>
<text x="219.6" y="679.45" text-anchor="end" class="tk">50</text>
<path d="M224 647.4H228" stroke="#b9b9cf" stroke-width="1"/>
<text x="219.6" y="651.6" text-anchor="end" class="tk">60</text>
<path d="M224 619.55H228" stroke="#b9b9cf" stroke-width="1"/>
<text x="219.6" y="623.75" text-anchor="end" class="tk">70</text>
<path d="M224 591.7H228" stroke="#b9b9cf" stroke-width="1"/>
<text x="219.6" y="595.9" text-anchor="end" class="tk">80</text>
<path d="M224 563.85H228" stroke="#b9b9cf" stroke-width="1"/>
<text x="219.6" y="568.05" text-anchor="end" class="tk">90</text>
<path d="M224 536H228" stroke="#b9b9cf" stroke-width="1"/>
<text x="219.6" y="540.2" text-anchor="end" class="tk">100</text>
<text transform="translate(187,760) rotate(-90)" class="yl">% of Population in Climate Zones</text>
<text x="763.2" y="678.6" class="lt" textLength="174" lengthAdjust="spacingAndGlyphs">Generalized Climate Zones</text>
<rect x="786.8" y="690.4" width="109" height="90" fill="#fff" stroke="#c4c4c4" stroke-width="1"/>
<rect x="795.3" y="701.1" width="18.3" height="12.4" fill="#ff4a0c" stroke="#8a8a7a" stroke-width="1.1"/>
<text x="822.5" y="711.7" class="ll">Tropical</text>
<rect x="795.3" y="724.4" width="18.3" height="12.4" fill="#ffa50a" stroke="#8a8a7a" stroke-width="1.1"/>
<text x="822.5" y="735" class="ll">Dry\Desert</text>
<rect x="795.3" y="747.7" width="18.3" height="12.4" fill="#dcfc9c" stroke="#8a8a7a" stroke-width="1.1"/>
<text x="822.5" y="758.3" class="ll">Temperate</text>
</svg>
<div id="band"></div>
<h1 id="hl"><span style="left:220.4px;top:298.8px;transform:scaleX(0.5319);text-shadow:-14.7px -2.5px 0 #fff,-14.7px 0px 0 #fff,-14.7px 2.5px 0 #fff,-13.23px -2.5px 0 #fff,-13.23px 0px 0 #fff,-13.23px 2.5px 0 #fff,-11.76px -2.5px 0 #fff,-11.76px 0px 0 #fff,-11.76px 2.5px 0 #fff,-10.29px -2.5px 0 #fff,-10.29px 0px 0 #fff,-10.29px 2.5px 0 #fff,-8.82px -2.5px 0 #fff,-8.82px 0px 0 #fff,-8.82px 2.5px 0 #fff,-7.35px -2.5px 0 #fff,-7.35px 0px 0 #fff,-7.35px 2.5px 0 #fff,-5.88px -2.5px 0 #fff,-5.88px 0px 0 #fff,-5.88px 2.5px 0 #fff,-4.41px -2.5px 0 #fff,-4.41px 0px 0 #fff,-4.41px 2.5px 0 #fff,-2.94px -2.5px 0 #fff,-2.94px 0px 0 #fff,-2.94px 2.5px 0 #fff,-1.47px -2.5px 0 #fff,-1.47px 0px 0 #fff,-1.47px 2.5px 0 #fff,0px -2.5px 0 #fff,0px 0px 0 #fff,0px 2.5px 0 #fff,1.47px -2.5px 0 #fff,1.47px 0px 0 #fff,1.47px 2.5px 0 #fff,2.94px -2.5px 0 #fff,2.94px 0px 0 #fff,2.94px 2.5px 0 #fff,4.41px -2.5px 0 #fff,4.41px 0px 0 #fff,4.41px 2.5px 0 #fff,5.88px -2.5px 0 #fff,5.88px 0px 0 #fff,5.88px 2.5px 0 #fff,7.35px -2.5px 0 #fff,7.35px 0px 0 #fff,7.35px 2.5px 0 #fff,8.82px -2.5px 0 #fff,8.82px 0px 0 #fff,8.82px 2.5px 0 #fff,10.29px -2.5px 0 #fff,10.29px 0px 0 #fff,10.29px 2.5px 0 #fff,11.76px -2.5px 0 #fff,11.76px 0px 0 #fff,11.76px 2.5px 0 #fff,13.23px -2.5px 0 #fff,13.23px 0px 0 #fff,13.23px 2.5px 0 #fff,14.7px -2.5px 0 #fff,14.7px 0px 0 #fff,14.7px 2.5px 0 #fff">E</span><span style="left:290.26px;top:299px;transform:scaleX(0.5244);text-shadow:-14.3px -2.5px 0 #fff,-14.3px 0px 0 #fff,-14.3px 2.5px 0 #fff,-12.87px -2.5px 0 #fff,-12.87px 0px 0 #fff,-12.87px 2.5px 0 #fff,-11.44px -2.5px 0 #fff,-11.44px 0px 0 #fff,-11.44px 2.5px 0 #fff,-10.01px -2.5px 0 #fff,-10.01px 0px 0 #fff,-10.01px 2.5px 0 #fff,-8.58px -2.5px 0 #fff,-8.58px 0px 0 #fff,-8.58px 2.5px 0 #fff,-7.15px -2.5px 0 #fff,-7.15px 0px 0 #fff,-7.15px 2.5px 0 #fff,-5.72px -2.5px 0 #fff,-5.72px 0px 0 #fff,-5.72px 2.5px 0 #fff,-4.29px -2.5px 0 #fff,-4.29px 0px 0 #fff,-4.29px 2.5px 0 #fff,-2.86px -2.5px 0 #fff,-2.86px 0px 0 #fff,-2.86px 2.5px 0 #fff,-1.43px -2.5px 0 #fff,-1.43px 0px 0 #fff,-1.43px 2.5px 0 #fff,0px -2.5px 0 #fff,0px 0px 0 #fff,0px 2.5px 0 #fff,1.43px -2.5px 0 #fff,1.43px 0px 0 #fff,1.43px 2.5px 0 #fff,2.86px -2.5px 0 #fff,2.86px 0px 0 #fff,2.86px 2.5px 0 #fff,4.29px -2.5px 0 #fff,4.29px 0px 0 #fff,4.29px 2.5px 0 #fff,5.72px -2.5px 0 #fff,5.72px 0px 0 #fff,5.72px 2.5px 0 #fff,7.15px -2.5px 0 #fff,7.15px 0px 0 #fff,7.15px 2.5px 0 #fff,8.58px -2.5px 0 #fff,8.58px 0px 0 #fff,8.58px 2.5px 0 #fff,10.01px -2.5px 0 #fff,10.01px 0px 0 #fff,10.01px 2.5px 0 #fff,11.44px -2.5px 0 #fff,11.44px 0px 0 #fff,11.44px 2.5px 0 #fff,12.87px -2.5px 0 #fff,12.87px 0px 0 #fff,12.87px 2.5px 0 #fff,14.3px -2.5px 0 #fff,14.3px 0px 0 #fff,14.3px 2.5px 0 #fff">S</span><span style="left:361.25px;top:298.8px;transform:scaleX(0.5000);text-shadow:-15.5px -2.5px 0 #fff,-15.5px 0px 0 #fff,-15.5px 2.5px 0 #fff,-13.95px -2.5px 0 #fff,-13.95px 0px 0 #fff,-13.95px 2.5px 0 #fff,-12.4px -2.5px 0 #fff,-12.4px 0px 0 #fff,-12.4px 2.5px 0 #fff,-10.85px -2.5px 0 #fff,-10.85px 0px 0 #fff,-10.85px 2.5px 0 #fff,-9.3px -2.5px 0 #fff,-9.3px 0px 0 #fff,-9.3px 2.5px 0 #fff,-7.75px -2.5px 0 #fff,-7.75px 0px 0 #fff,-7.75px 2.5px 0 #fff,-6.2px -2.5px 0 #fff,-6.2px 0px 0 #fff,-6.2px 2.5px 0 #fff,-4.65px -2.5px 0 #fff,-4.65px 0px 0 #fff,-4.65px 2.5px 0 #fff,-3.1px -2.5px 0 #fff,-3.1px 0px 0 #fff,-3.1px 2.5px 0 #fff,-1.55px -2.5px 0 #fff,-1.55px 0px 0 #fff,-1.55px 2.5px 0 #fff,0px -2.5px 0 #fff,0px 0px 0 #fff,0px 2.5px 0 #fff,1.55px -2.5px 0 #fff,1.55px 0px 0 #fff,1.55px 2.5px 0 #fff,3.1px -2.5px 0 #fff,3.1px 0px 0 #fff,3.1px 2.5px 0 #fff,4.65px -2.5px 0 #fff,4.65px 0px 0 #fff,4.65px 2.5px 0 #fff,6.2px -2.5px 0 #fff,6.2px 0px 0 #fff,6.2px 2.5px 0 #fff,7.75px -2.5px 0 #fff,7.75px 0px 0 #fff,7.75px 2.5px 0 #fff,9.3px -2.5px 0 #fff,9.3px 0px 0 #fff,9.3px 2.5px 0 #fff,10.85px -2.5px 0 #fff,10.85px 0px 0 #fff,10.85px 2.5px 0 #fff,12.4px -2.5px 0 #fff,12.4px 0px 0 #fff,12.4px 2.5px 0 #fff,13.95px -2.5px 0 #fff,13.95px 0px 0 #fff,13.95px 2.5px 0 #fff,15.5px -2.5px 0 #fff,15.5px 0px 0 #fff,15.5px 2.5px 0 #fff">T</span><span style="left:427.85px;top:298.8px;transform:scaleX(0.6000);text-shadow:-11.5px -2.5px 0 #fff,-11.5px 0px 0 #fff,-11.5px 2.5px 0 #fff,-10.06px -2.5px 0 #fff,-10.06px 0px 0 #fff,-10.06px 2.5px 0 #fff,-8.63px -2.5px 0 #fff,-8.63px 0px 0 #fff,-8.63px 2.5px 0 #fff,-7.19px -2.5px 0 #fff,-7.19px 0px 0 #fff,-7.19px 2.5px 0 #fff,-5.75px -2.5px 0 #fff,-5.75px 0px 0 #fff,-5.75px 2.5px 0 #fff,-4.31px -2.5px 0 #fff,-4.31px 0px 0 #fff,-4.31px 2.5px 0 #fff,-2.88px -2.5px 0 #fff,-2.88px 0px 0 #fff,-2.88px 2.5px 0 #fff,-1.44px -2.5px 0 #fff,-1.44px 0px 0 #fff,-1.44px 2.5px 0 #fff,0px -2.5px 0 #fff,0px 0px 0 #fff,0px 2.5px 0 #fff,1.44px -2.5px 0 #fff,1.44px 0px 0 #fff,1.44px 2.5px 0 #fff,2.88px -2.5px 0 #fff,2.88px 0px 0 #fff,2.88px 2.5px 0 #fff,4.31px -2.5px 0 #fff,4.31px 0px 0 #fff,4.31px 2.5px 0 #fff,5.75px -2.5px 0 #fff,5.75px 0px 0 #fff,5.75px 2.5px 0 #fff,7.19px -2.5px 0 #fff,7.19px 0px 0 #fff,7.19px 2.5px 0 #fff,8.63px -2.5px 0 #fff,8.63px 0px 0 #fff,8.63px 2.5px 0 #fff,10.06px -2.5px 0 #fff,10.06px 0px 0 #fff,10.06px 2.5px 0 #fff,11.5px -2.5px 0 #fff,11.5px 0px 0 #fff,11.5px 2.5px 0 #fff">I</span><span class="m" style="left:461.61px;top:291.8px;font-size:150.72px;transform:matrix3d(0.753413,-0,0,0,-0.122374,0.714378,0,-0.001904,0,0,1,0,15.847455,5.05503,0,1) scaleX(1.0201);text-shadow:-3.73px -2.5px 0 #fff,-3.73px 0px 0 #fff,-3.73px 2.5px 0 #fff,-1.87px -2.5px 0 #fff,-1.87px 0px 0 #fff,-1.87px 2.5px 0 #fff,0px -2.5px 0 #fff,0px 0px 0 #fff,0px 2.5px 0 #fff,1.87px -2.5px 0 #fff,1.87px 0px 0 #fff,1.87px 2.5px 0 #fff,3.73px -2.5px 0 #fff,3.73px 0px 0 #fff,3.73px 2.5px 0 #fff">M</span><span class="m" style="left:590.63px;top:290.8px;font-size:150.72px;transform:scaleX(0.7178);text-shadow:-7.66px -2.5px 0 #fff,-7.66px 0px 0 #fff,-7.66px 2.5px 0 #fff,-6.13px -2.5px 0 #fff,-6.13px 0px 0 #fff,-6.13px 2.5px 0 #fff,-4.6px -2.5px 0 #fff,-4.6px 0px 0 #fff,-4.6px 2.5px 0 #fff,-3.06px -2.5px 0 #fff,-3.06px 0px 0 #fff,-3.06px 2.5px 0 #fff,-1.53px -2.5px 0 #fff,-1.53px 0px 0 #fff,-1.53px 2.5px 0 #fff,0px -2.5px 0 #fff,0px 0px 0 #fff,0px 2.5px 0 #fff,1.53px -2.5px 0 #fff,1.53px 0px 0 #fff,1.53px 2.5px 0 #fff,3.06px -2.5px 0 #fff,3.06px 0px 0 #fff,3.06px 2.5px 0 #fff,4.6px -2.5px 0 #fff,4.6px 0px 0 #fff,4.6px 2.5px 0 #fff,6.13px -2.5px 0 #fff,6.13px 0px 0 #fff,6.13px 2.5px 0 #fff,7.66px -2.5px 0 #fff,7.66px 0px 0 #fff,7.66px 2.5px 0 #fff">A</span><span style="left:683.14px;top:298.8px;transform:scaleX(0.5074);text-shadow:-15.08px -2.5px 0 #fff,-15.08px 0px 0 #fff,-15.08px 2.5px 0 #fff,-13.57px -2.5px 0 #fff,-13.57px 0px 0 #fff,-13.57px 2.5px 0 #fff,-12.06px -2.5px 0 #fff,-12.06px 0px 0 #fff,-12.06px 2.5px 0 #fff,-10.56px -2.5px 0 #fff,-10.56px 0px 0 #fff,-10.56px 2.5px 0 #fff,-9.05px -2.5px 0 #fff,-9.05px 0px 0 #fff,-9.05px 2.5px 0 #fff,-7.54px -2.5px 0 #fff,-7.54px 0px 0 #fff,-7.54px 2.5px 0 #fff,-6.03px -2.5px 0 #fff,-6.03px 0px 0 #fff,-6.03px 2.5px 0 #fff,-4.52px -2.5px 0 #fff,-4.52px 0px 0 #fff,-4.52px 2.5px 0 #fff,-3.02px -2.5px 0 #fff,-3.02px 0px 0 #fff,-3.02px 2.5px 0 #fff,-1.51px -2.5px 0 #fff,-1.51px 0px 0 #fff,-1.51px 2.5px 0 #fff,0px -2.5px 0 #fff,0px 0px 0 #fff,0px 2.5px 0 #fff,1.51px -2.5px 0 #fff,1.51px 0px 0 #fff,1.51px 2.5px 0 #fff,3.02px -2.5px 0 #fff,3.02px 0px 0 #fff,3.02px 2.5px 0 #fff,4.52px -2.5px 0 #fff,4.52px 0px 0 #fff,4.52px 2.5px 0 #fff,6.03px -2.5px 0 #fff,6.03px 0px 0 #fff,6.03px 2.5px 0 #fff,7.54px -2.5px 0 #fff,7.54px 0px 0 #fff,7.54px 2.5px 0 #fff,9.05px -2.5px 0 #fff,9.05px 0px 0 #fff,9.05px 2.5px 0 #fff,10.56px -2.5px 0 #fff,10.56px 0px 0 #fff,10.56px 2.5px 0 #fff,12.06px -2.5px 0 #fff,12.06px 0px 0 #fff,12.06px 2.5px 0 #fff,13.57px -2.5px 0 #fff,13.57px 0px 0 #fff,13.57px 2.5px 0 #fff,15.08px -2.5px 0 #fff,15.08px 0px 0 #fff,15.08px 2.5px 0 #fff">T</span><span style="left:751.65px;top:298.8px;transform:scaleX(0.5319);text-shadow:-14.7px -2.5px 0 #fff,-14.7px 0px 0 #fff,-14.7px 2.5px 0 #fff,-13.23px -2.5px 0 #fff,-13.23px 0px 0 #fff,-13.23px 2.5px 0 #fff,-11.76px -2.5px 0 #fff,-11.76px 0px 0 #fff,-11.76px 2.5px 0 #fff,-10.29px -2.5px 0 #fff,-10.29px 0px 0 #fff,-10.29px 2.5px 0 #fff,-8.82px -2.5px 0 #fff,-8.82px 0px 0 #fff,-8.82px 2.5px 0 #fff,-7.35px -2.5px 0 #fff,-7.35px 0px 0 #fff,-7.35px 2.5px 0 #fff,-5.88px -2.5px 0 #fff,-5.88px 0px 0 #fff,-5.88px 2.5px 0 #fff,-4.41px -2.5px 0 #fff,-4.41px 0px 0 #fff,-4.41px 2.5px 0 #fff,-2.94px -2.5px 0 #fff,-2.94px 0px 0 #fff,-2.94px 2.5px 0 #fff,-1.47px -2.5px 0 #fff,-1.47px 0px 0 #fff,-1.47px 2.5px 0 #fff,0px -2.5px 0 #fff,0px 0px 0 #fff,0px 2.5px 0 #fff,1.47px -2.5px 0 #fff,1.47px 0px 0 #fff,1.47px 2.5px 0 #fff,2.94px -2.5px 0 #fff,2.94px 0px 0 #fff,2.94px 2.5px 0 #fff,4.41px -2.5px 0 #fff,4.41px 0px 0 #fff,4.41px 2.5px 0 #fff,5.88px -2.5px 0 #fff,5.88px 0px 0 #fff,5.88px 2.5px 0 #fff,7.35px -2.5px 0 #fff,7.35px 0px 0 #fff,7.35px 2.5px 0 #fff,8.82px -2.5px 0 #fff,8.82px 0px 0 #fff,8.82px 2.5px 0 #fff,10.29px -2.5px 0 #fff,10.29px 0px 0 #fff,10.29px 2.5px 0 #fff,11.76px -2.5px 0 #fff,11.76px 0px 0 #fff,11.76px 2.5px 0 #fff,13.23px -2.5px 0 #fff,13.23px 0px 0 #fff,13.23px 2.5px 0 #fff,14.7px -2.5px 0 #fff,14.7px 0px 0 #fff,14.7px 2.5px 0 #fff">E</span></h1>
<p id="sub"><span style="left:17.25px;top:472.8px;letter-spacing:-2.2px">This</span> <span style="left:116.35px;top:472.8px;letter-spacing:3.27px">page</span> <span style="left:250.55px;top:472.8px;letter-spacing:-0.35px">shows</span> <span style="left:403.85px;top:472.8px;letter-spacing:-0.21px">estimates</span> <span style="left:623.85px;top:472.8px;letter-spacing:3.8px">of</span> <span style="left:685.85px;top:472.8px;letter-spacing:1.05px">climate</span> <span style="left:858.65px;top:472.8px;letter-spacing:1.36px">zones.</span></p>
</body></html>
